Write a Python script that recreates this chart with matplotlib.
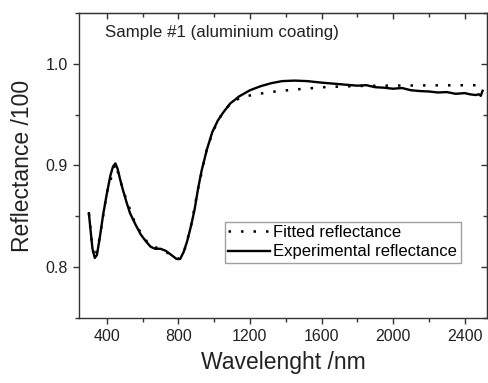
import numpy as np
import matplotlib
matplotlib.use('Agg')
import matplotlib.pyplot as plt
from matplotlib.ticker import MultipleLocator, FormatStrFormatter

plt.rcParams['font.family'] = ['Liberation Sans', 'DejaVu Sans']

# Experimental reflectance
exp_wl = [300, 310, 320, 333, 345, 360, 380, 400, 420, 435, 448, 460, 475, 490,
          510, 530, 560, 590, 620, 645, 670, 700, 730, 760, 790, 810, 830, 850,
          870, 890, 910, 930, 960, 990, 1020, 1050, 1090, 1140, 1200, 1260, 1320,
          1380, 1450, 1520, 1600, 1700, 1800, 1850, 1900, 1950, 2000, 2050, 2100,
          2150, 2200, 2250, 2300, 2350, 2400, 2430, 2460, 2480, 2490, 2500]
exp_r = [0.853, 0.835, 0.818, 0.809, 0.812, 0.828, 0.852, 0.872, 0.890, 0.899,
         0.902, 0.897, 0.886, 0.876, 0.864, 0.853, 0.842, 0.832, 0.825, 0.820,
         0.818, 0.818, 0.816, 0.812, 0.808, 0.808, 0.815, 0.826, 0.840, 0.856,
         0.877, 0.895, 0.916, 0.933, 0.944, 0.952, 0.961, 0.968, 0.974, 0.978,
         0.981, 0.983, 0.9835, 0.983, 0.9815, 0.980, 0.9785, 0.979, 0.977,
         0.9765, 0.9755, 0.9762, 0.974, 0.9732, 0.9728, 0.9718, 0.9722, 0.9705,
         0.9712, 0.9700, 0.9693, 0.9700, 0.9685, 0.9735]

# Fitted reflectance
fit_wl = [300, 320, 335, 360, 400, 448, 490, 560, 640, 700, 760, 800, 830, 870,
          910, 960, 1000, 1050, 1100, 1150, 1230, 1350, 1490, 1630, 1800, 2000,
          2200, 2500]
fit_r = [0.853, 0.818, 0.809, 0.829, 0.873, 0.902, 0.876, 0.842, 0.821, 0.818,
         0.812, 0.808, 0.814, 0.840, 0.877, 0.917, 0.936, 0.953, 0.962, 0.967,
         0.970, 0.973, 0.9753, 0.9772, 0.9782, 0.9786, 0.9788, 0.979]

spine_c = '#333333'

fig = plt.figure(figsize=(4.88, 3.83), dpi=100)
ax = fig.add_axes([0.162, 0.170, 0.836, 0.796])

ax.plot(fit_wl, fit_r, color='black', lw=1.8, ls=(0, (1, 4)),
        label='Fitted reflectance')
ax.plot(exp_wl, exp_r, color='black', lw=1.7, label='Experimental reflectance')

ax.set_xlim(245, 2525)
ax.set_ylim(0.75, 1.05)
ax.xaxis.set_major_locator(MultipleLocator(400))
ax.xaxis.set_minor_locator(MultipleLocator(200))
ax.yaxis.set_major_locator(MultipleLocator(0.1))
ax.yaxis.set_minor_locator(MultipleLocator(0.05))
ax.yaxis.set_major_formatter(FormatStrFormatter('%.1f'))

ax.tick_params(which='both', direction='out', colors=spine_c, labelcolor='#222222',
               labelsize=11.5)
ax.tick_params(which='major', length=4.5, width=1)
ax.tick_params(which='minor', length=3, width=1)
for s in ax.spines.values():
    s.set_color(spine_c)
    s.set_linewidth(1)

# mirrored ticks pointing inwards on top and right
top = ax.secondary_xaxis('top')
top.xaxis.set_major_locator(MultipleLocator(400))
top.xaxis.set_minor_locator(MultipleLocator(200))
top.tick_params(which='both', direction='in', labeltop=False, colors=spine_c)
top.tick_params(which='major', length=4.5, width=1)
top.tick_params(which='minor', length=3, width=1)
top.spines['top'].set_color(spine_c)
right = ax.secondary_yaxis('right')
right.yaxis.set_major_locator(MultipleLocator(0.1))
right.yaxis.set_minor_locator(MultipleLocator(0.05))
right.tick_params(which='both', direction='in', labelright=False, colors=spine_c)
right.tick_params(which='major', length=4.5, width=1)
right.tick_params(which='minor', length=3, width=1)
right.spines['right'].set_color(spine_c)

ax.set_xlabel('Wavelenght /nm', fontsize=16.5, color='#222222', labelpad=5)
ax.set_ylabel('Reflectance /100', fontsize=16.5, color='#222222', labelpad=8)

ax.text(0.064, 0.935, 'Sample #1 (aluminium coating)', transform=ax.transAxes,
        fontsize=12.2, color='#222222', va='center', ha='left')

leg = ax.legend(loc='upper left', bbox_to_anchor=(0.358, 0.315),
                borderaxespad=0, fontsize=12, frameon=True, fancybox=False,
                handlelength=2.5, handletextpad=0.2, borderpad=0.2,
                labelspacing=0.25)
leg.get_frame().set_edgecolor('#888888')
leg.get_frame().set_linewidth(1)

fig.savefig('out.png', dpi=100)
